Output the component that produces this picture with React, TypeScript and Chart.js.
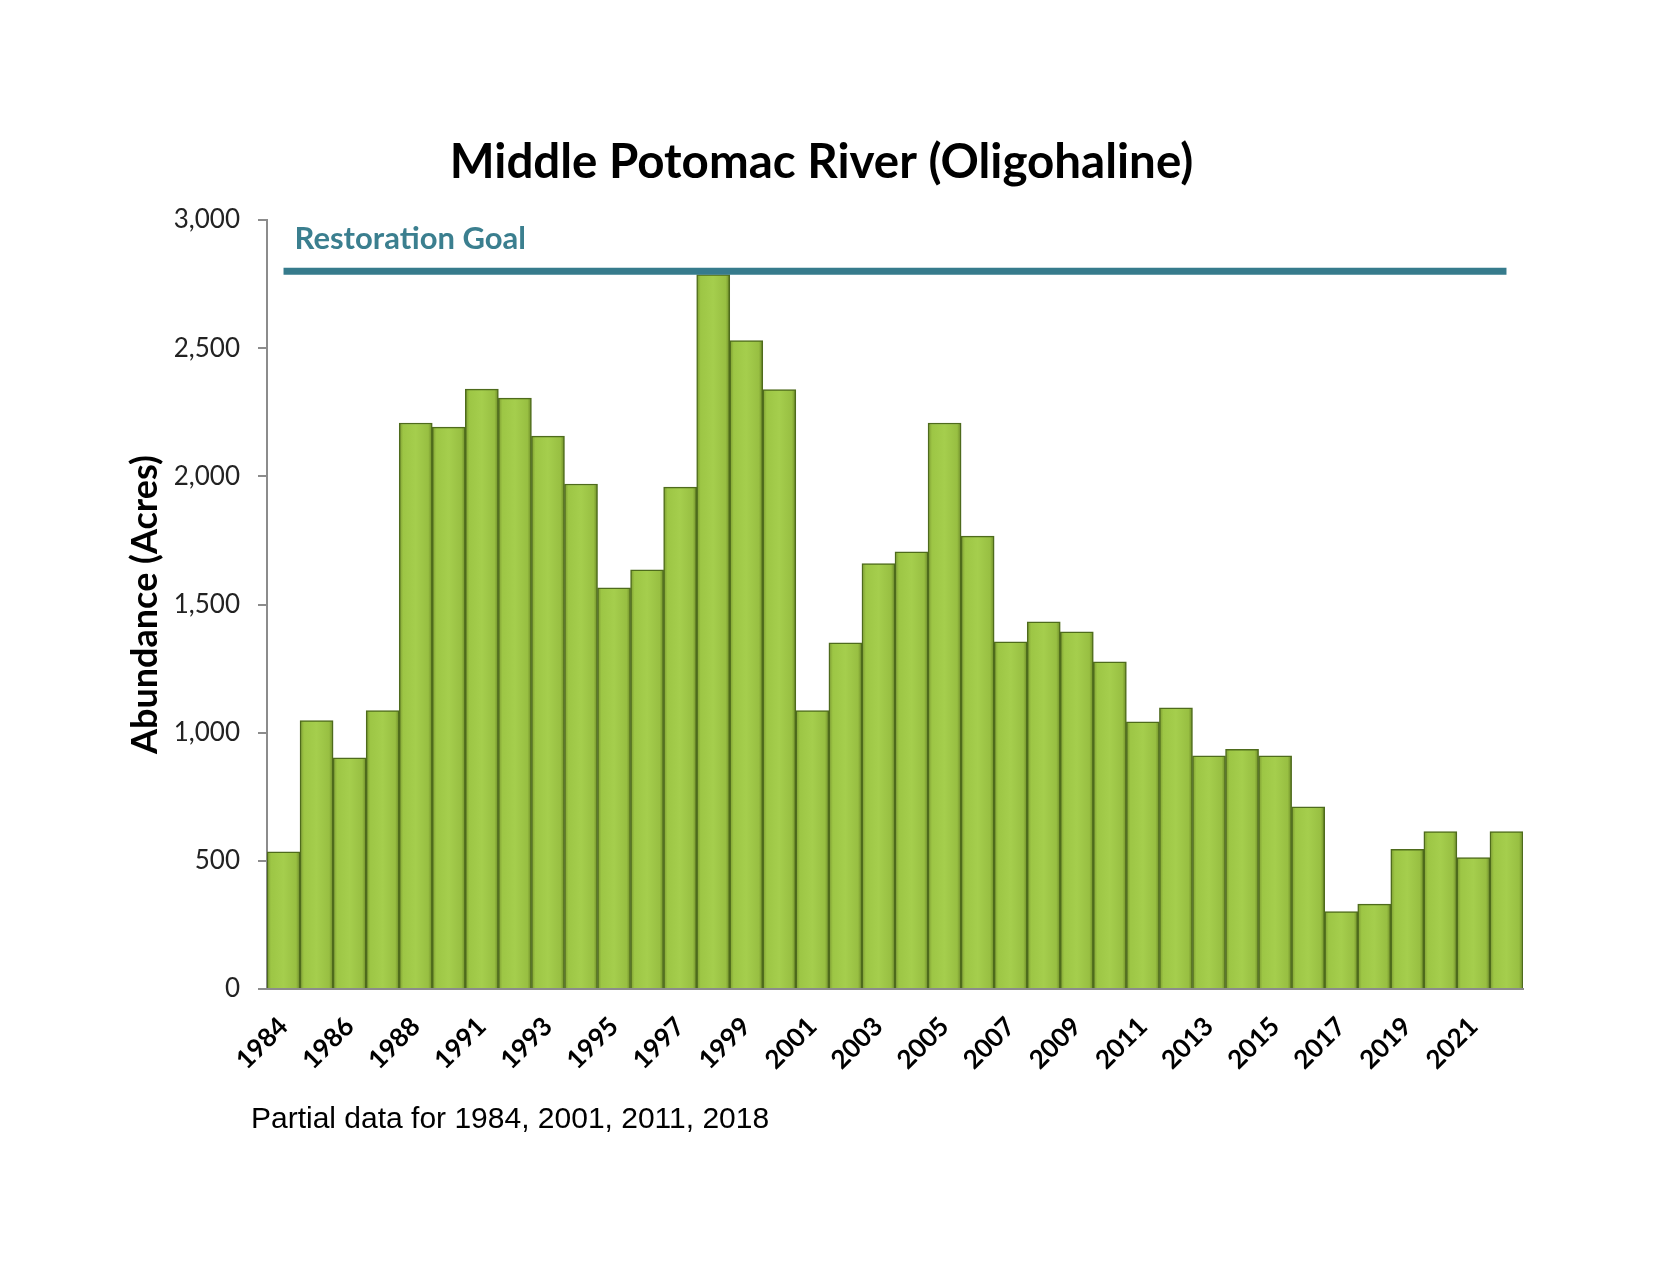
import { useEffect, useRef } from 'react';
import { Chart, registerables } from 'chart.js';
import type { Plugin, ScriptableContext } from 'chart.js';

Chart.register(...registerables);

// survey years (no survey for 1990)
const YEARS = [
  '1984', '1985', '1986', '1987', '1988', '1989', '1991', '1992', '1993', '1994',
  '1995', '1996', '1997', '1998', '1999', '2000', '2001', '2002', '2003', '2004',
  '2005', '2006', '2007', '2008', '2009', '2010', '2011', '2012', '2013', '2014',
  '2015', '2016', '2017', '2018', '2019', '2020', '2021', '2022',
];

// SAV abundance in acres
const ACRES = [
  535, 1047, 902, 1086, 2208, 2192, 2340, 2305, 2157, 1970,
  1565, 1635, 1958, 2787, 2530, 2338, 1086, 1350, 1660, 1705,
  2208, 1767, 1354, 1432, 1393, 1276, 1042, 1097, 910, 935,
  910, 711, 302, 331, 545, 614, 513, 614,
];

const GOAL = 2800;
const Y_TICKS = [0, 500, 1000, 1500, 2000, 2500, 3000];

const barFill = (ctx: ScriptableContext<'bar'>) => {
  const chart = ctx.chart;
  const xs = chart.scales.x;
  if (!xs || !chart.chartArea) return '#9cc444';
  const cx = xs.getPixelForValue(ctx.dataIndex);
  const w = xs.width / YEARS.length;
  const g = chart.ctx.createLinearGradient(cx - w / 2, 0, cx + w / 2, 0);
  g.addColorStop(0, '#7d9c31');
  g.addColorStop(0.12, '#9dc645');
  g.addColorStop(0.5, '#a5ce4d');
  g.addColorStop(0.88, '#98bf42');
  g.addColorStop(1, '#6d8b28');
  return g;
};

// bevelled tops + goal label
const decor: Plugin<'bar'> = {
  id: 'decor',
  afterDatasetDraw(chart, args) {
    if (args.index !== 0) return;
    const { ctx, chartArea } = chart;
    const meta = chart.getDatasetMeta(0);
    ctx.save();
    meta.data.forEach((el) => {
      const { x, y, width } = el.getProps(['x', 'y', 'width'], true) as any;
      const l = x - width / 2 + 1;
      const r = x + width / 2 - 1;
      const shade = ctx.createLinearGradient(0, y, 0, chartArea.bottom);
      shade.addColorStop(0, 'rgba(255,255,255,0.04)');
      shade.addColorStop(1, 'rgba(40,60,0,0.10)');
      ctx.fillStyle = shade;
      ctx.fillRect(l, y, r - l, chartArea.bottom - y);
      const bev = 8;
      const g = ctx.createLinearGradient(0, y, 0, y + bev);
      g.addColorStop(0, '#d6ee84');
      g.addColorStop(1, '#b2d85a');
      ctx.fillStyle = g;
      ctx.beginPath();
      ctx.moveTo(l, y + 1);
      ctx.lineTo(r, y + 1);
      ctx.lineTo(r - bev, y + bev);
      ctx.lineTo(l + bev, y + bev);
      ctx.closePath();
      ctx.fill();
    });
    ctx.restore();
  },
  afterDraw(chart) {
    const { ctx, scales } = chart;
    ctx.save();
    ctx.font = 'bold 31px Lato';
    ctx.fillStyle = '#3b7f8f';
    ctx.textBaseline = 'middle';
    ctx.fillText('Restoration Goal', scales.x.getPixelForValue(0) + 11, scales.y.getPixelForValue(GOAL) - 32);
    ctx.restore();
  },
};

function SavChart() {
  const chartRef = useRef<HTMLCanvasElement>(null);
  const chartInstance = useRef<Chart | null>(null);

  useEffect(() => {
    if (!chartRef.current) return;
    if (chartInstance.current) chartInstance.current.destroy();

    chartInstance.current = new Chart(chartRef.current, {
      type: 'bar',
      data: {
        labels: YEARS,
        datasets: [
          {
            type: 'line',
            label: 'Restoration Goal',
            data: YEARS.map(() => GOAL),
            borderColor: '#367b8c',
            borderWidth: 7,
            pointRadius: 0,
            order: 0,
          } as any,
          {
            label: 'Abundance',
            data: ACRES,
            backgroundColor: barFill,
            borderColor: '#4e6b1c',
            borderWidth: 1.5,
            barPercentage: 1,
            categoryPercentage: 1,
            order: 1,
          },
        ],
      },
      options: {
        animation: false,
        responsive: true,
        maintainAspectRatio: false,
        layout: { padding: { left: 120, right: 149, top: 0, bottom: 195 } },
        plugins: {
          legend: { display: false },
          tooltip: { enabled: false },
          title: {
            display: true,
            text: 'Middle Potomac River (Oligohaline)',
            color: '#000',
            font: { family: 'Lato', size: 47.5, weight: 'bold' },
            padding: { top: 134, bottom: 29 },
          },
        },
        scales: {
          x: {
            grid: { display: false },
            border: { display: true, color: '#8c8c8c', width: 2 },
            afterFit: (scale) => { scale.height = 100; },
            ticks: {
              autoSkip: false,
              maxRotation: 45,
              minRotation: 45,
              padding: 14,
              color: '#000',
              font: { family: 'Lato', size: 26, weight: 'bold' },
              callback: (_v, i) => (i % 2 === 0 ? YEARS[i] : ''),
            },
          },
          y: {
            min: 0,
            max: 3000,
            afterFit: (scale) => { scale.width = 147; },
            afterBuildTicks: (scale) => { scale.ticks = Y_TICKS.map((v) => ({ value: v })); },
            grid: { drawOnChartArea: false, color: '#8c8c8c', lineWidth: 2, tickLength: 9 },
            border: { display: true, color: '#8c8c8c', width: 2 },
            ticks: {
              padding: 18,
              color: '#222',
              font: { family: 'Lato', size: 26 },
              callback: (v) => Number(v).toLocaleString('en-US'),
            },
            title: {
              display: true,
              text: 'Abundance (Acres)',
              color: '#000',
              font: { family: 'Lato', size: 36, weight: 'bold' },
              padding: { top: 4, bottom: 0 },
            },
          },
        },
      },
      plugins: [decor as any],
    });

    return () => {
      if (chartInstance.current) {
        chartInstance.current.destroy();
        chartInstance.current = null;
      }
    };
  }, []);

  return (
    <div style={{ position: 'fixed', left: 0, top: 0, width: 1672, height: 1284, background: '#fff' }}>
      <canvas ref={chartRef} />
      <div
        style={{
          position: 'absolute',
          left: 251,
          top: 1101,
          fontFamily: '"Liberation Sans", Arial, sans-serif',
          fontSize: 30,
          color: '#000',
          whiteSpace: 'nowrap',
        }}
      >
        Partial data for 1984, 2001, 2011, 2018
      </div>
    </div>
  );
}

export default function App() {
  return <SavChart />;
}
